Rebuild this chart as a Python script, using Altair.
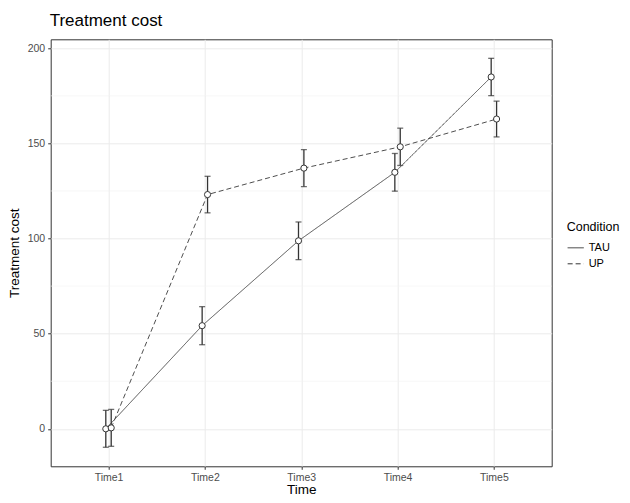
import altair as alt
import pandas as pd

times = ["Time1", "Time2", "Time3", "Time4", "Time5"]
tau_mean = [0.0, 54.2, 98.8, 134.8, 184.9]
tau_se = [9.7, 10.0, 9.9, 9.9, 9.8]
up_mean = [0.5, 123.1, 137.0, 148.2, 162.8]
up_se = [9.7, 9.6, 9.7, 9.8, 9.4]
y_ticks = [0, 50, 100, 150, 200]
y_minor = [25, 75, 125, 175]

rows = []
for t, m, s in zip(times, tau_mean, tau_se):
    rows.append({"Time": t, "Condition": "TAU", "cost": m, "se": s})
for t, m, s in zip(times, up_mean, up_se):
    rows.append({"Time": t, "Condition": "UP", "cost": m, "se": s})
df = pd.DataFrame(rows)
minor_df = pd.DataFrame({"v": y_minor})

FONT = "Liberation Sans"

x_enc = alt.X("Time:O", scale=alt.Scale(type="point", padding=0.6),
              axis=alt.Axis(title="Time", labelAngle=0, grid=True))
xo_enc = alt.XOffset("Condition:N",
                     scale=alt.Scale(type="point", domain=["TAU", "UP"], range=[-2.7, 2.7], padding=0))
y_scale = alt.Scale(domain=[-19.7, 204.7], nice=False, zero=False)

base = alt.Chart(df)

minor = alt.Chart(minor_df).mark_rule(color="#f2f2f2", strokeWidth=0.6).encode(
    y=alt.Y("v:Q", scale=y_scale)
)

lines = base.mark_line(color="#4d4d4d", strokeWidth=1).encode(
    x=x_enc,
    xOffset=xo_enc,
    y=alt.Y("cost:Q", scale=y_scale,
            axis=alt.Axis(title="Treatment cost", values=y_ticks, grid=True)),
    strokeDash=alt.StrokeDash("Condition:N",
                              scale=alt.Scale(domain=["TAU", "UP"], range=[[1, 0], [5, 3]]),
                              legend=alt.Legend(title="Condition", orient="none",
                                                legendX=516, legendY=182,
                                                symbolType="stroke", symbolSize=260,
                                                symbolStrokeColor="#333333",
                                                symbolStrokeWidth=1)),
    detail="Condition:N",
)

bars = base.transform_calculate(
    lo="datum.cost - datum.se", hi="datum.cost + datum.se"
).mark_rule(color="#333333", strokeWidth=1.3).encode(
    x=x_enc, xOffset=xo_enc,
    y=alt.Y("lo:Q", scale=y_scale), y2="hi:Q",
)

caps_lo = base.transform_calculate(lo="datum.cost - datum.se").mark_tick(
    color="#333333", thickness=1.3, size=6, orient="horizontal"
).encode(x=x_enc, xOffset=xo_enc, y=alt.Y("lo:Q", scale=y_scale))

caps_hi = base.transform_calculate(hi="datum.cost + datum.se").mark_tick(
    color="#333333", thickness=1.3, size=6, orient="horizontal"
).encode(x=x_enc, xOffset=xo_enc, y=alt.Y("hi:Q", scale=y_scale))

points = base.mark_point(filled=True, fill="white", stroke="#333333",
                         strokeWidth=1, size=38, opacity=1).encode(
    x=x_enc, xOffset=xo_enc, y=alt.Y("cost:Q", scale=y_scale)
)

chart = alt.layer(minor, lines, bars, caps_lo, caps_hi, points).properties(
    width=501, height=427,
    title=alt.TitleParams("Treatment cost", anchor="start", frame="group",
                          fontSize=17, font=FONT, fontWeight="normal",
                          color="#000000", offset=9, dx=-1),
    autosize=alt.AutoSizeParams(type="none"),
    padding={"left": 42.7, "top": 31.3, "right": 70, "bottom": 34},
).configure_view(
    stroke="#333333", strokeWidth=1
).configure_axis(
    domain=False,
    gridColor="#ebebeb", gridWidth=1,
    tickColor="#333333", tickSize=3,
    labelColor="#4d4d4d", labelFont=FONT, labelFontSize=10.5,
    titleFont=FONT, titleFontSize=13.5, titleFontWeight="normal", titleColor="#000000",
    labelPadding=3,
).configure_axisX(
    titlePadding=0,
).configure_axisY(
    titlePadding=6,
).configure_legend(
    titleFont=FONT, titleFontSize=12.5, titleFontWeight="normal", titleColor="#000000",
    labelFont=FONT, labelFontSize=11, labelColor="#000000",
    padding=0,
)

chart.save("out.html", embed_options={"renderer": "svg", "actions": False})
